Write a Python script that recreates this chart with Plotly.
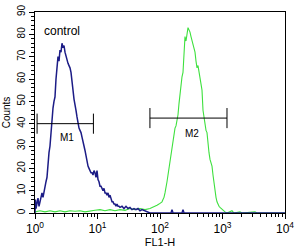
import plotly.graph_objects as go

# ---- data (log10 of FL1-H, counts) ----
blue_log_fl1 = [0.000, 0.008, 0.016, 0.032, 0.048, 0.064, 0.080, 0.096, 0.112, 0.128,
                0.144, 0.160, 0.176, 0.192, 0.208, 0.224, 0.240, 0.256, 0.272, 0.288,
                0.304, 0.320, 0.336, 0.352, 0.368, 0.384, 0.400, 0.416, 0.432, 0.448,
                0.464, 0.480, 0.496, 0.512, 0.528, 0.544, 0.560, 0.576, 0.592, 0.608,
                0.624, 0.640, 0.656, 0.672, 0.688, 0.704, 0.720, 0.736, 0.752, 0.768,
                0.784, 0.800, 0.816, 0.832, 0.848, 0.864, 0.880, 0.896, 0.912, 0.928,
                0.944, 0.960, 0.976, 0.992, 1.008, 1.024, 1.040, 1.056, 1.072, 1.088,
                1.104, 1.120, 1.136, 1.152, 1.168, 1.184, 1.200, 1.216, 1.232, 1.248,
                1.264, 1.280, 1.296, 1.312, 1.328, 1.344, 1.360, 1.392, 1.424, 1.456,
                1.488, 1.520, 1.552, 1.584, 1.616, 1.648, 1.680, 1.712, 1.760, 1.808,
                1.840, 2.176, 2.192, 2.208, 2.352, 2.368, 2.384, 4.000]
blue_counts = [0, 6, 2, 4.5, 6.7, 3, 5, 8, 9, 7,
               10, 12, 14, 16, 24, 27, 30, 37, 42, 47,
               50, 52, 60, 64, 70, 68, 73, 72, 76, 74,
               75, 72, 70, 68, 67, 66, 65, 63, 60, 55,
               51, 49, 46, 43, 40, 38, 37, 36, 34, 31,
               30, 28, 25, 22, 21, 20, 19, 18, 18, 17,
               19, 18, 16, 19, 15, 14, 12, 12, 11, 10,
               11, 9, 9, 8, 9, 7, 8, 6, 5, 5,
               4, 4, 3, 4, 3, 3, 2.5, 3, 2, 3,
               2, 2.5, 1.5, 2, 1.5, 2, 1, 1.5, 1, 0.5,
               0, 0, 1.5, 0, 0, 1.5, 0, 0]

green_log_fl1 = [0.00, 0.08, 0.16, 0.24, 0.32, 0.40, 0.48, 0.56, 0.64, 0.72,
                 0.80, 0.88, 0.96, 1.04, 1.12, 1.20, 1.28, 1.36, 1.44, 1.52,
                 1.60, 1.68, 1.76, 1.84, 1.888, 1.92, 1.952, 1.984, 2.016, 2.032,
                 2.048, 2.064, 2.080, 2.096, 2.112, 2.128, 2.144, 2.160, 2.176, 2.192,
                 2.208, 2.224, 2.240, 2.256, 2.272, 2.288, 2.304, 2.320, 2.336, 2.352,
                 2.368, 2.384, 2.400, 2.416, 2.432, 2.448, 2.464, 2.480, 2.496, 2.512,
                 2.528, 2.544, 2.560, 2.576, 2.592, 2.608, 2.624, 2.640, 2.656, 2.672,
                 2.688, 2.704, 2.720, 2.736, 2.752, 2.768, 2.784, 2.800, 2.816, 2.832,
                 2.848, 2.864, 2.880, 2.896, 2.912, 2.928, 2.944, 2.960, 2.992, 3.040,
                 3.072, 3.152, 3.184, 3.280, 3.312, 3.520, 3.552, 4.000]
green_counts = [0.5, 1, 0.5, 1, 0.5, 1, 0.5, 1, 0.8, 1,
                0.5, 1, 1.2, 1.5, 1, 1.5, 1, 1.5, 1.2, 2,
                1.5, 2, 1.5, 2, 2.5, 3, 3.5, 4, 4.5, 5,
                6, 7, 9, 11, 14, 17, 20, 24, 27, 30,
                33, 36, 38, 39, 41, 44, 49, 54, 58, 61,
                63, 70, 79, 77, 80, 83, 82, 81, 79, 77,
                76, 74, 72, 68, 65, 66, 63, 60, 57, 55,
                46, 43, 39, 37, 36, 30, 27, 24, 22, 21,
                17, 13, 9, 7, 5, 3.5, 3, 2.5, 1.5, 0.5,
                0, 1, 0, 0.5, 0, 0.5, 0, 0]

gate_names = ["M1", "M2"]
gate_low = [1.08, 69]
gate_high = [8.6, 1180]
gate_level = [40, 42.5]
gate_label_log_x = [0.512, 2.512]
gate_label_y = [34, 35.8]

x_tick_vals = [1, 10, 100, 1000, 10000]
x_tick_text = ["10<sup>0</sup>", "10<sup>1</sup>", "10<sup>2</sup>", "10<sup>3</sup>", "10<sup>4</sup>"]
x_minor_vals = [m * 10 ** d for d in range(4) for m in range(2, 10)]

BLUE = "#1c1c86"
GREEN = "#3ee03e"
FONT = "Liberation Sans"

fig = go.Figure()
fig.add_trace(go.Scatter(x=[10 ** v for v in green_log_fl1], y=green_counts, mode="lines",
                         line=dict(color=GREEN, width=1.1), showlegend=False))
fig.add_trace(go.Scatter(x=[10 ** v for v in blue_log_fl1], y=blue_counts, mode="lines",
                         line=dict(color=BLUE, width=1.5), showlegend=False))

tick_half = 4.5
for name, lo, hi, lvl, lx, ly in zip(gate_names, gate_low, gate_high, gate_level,
                                     gate_label_log_x, gate_label_y):
    fig.add_trace(go.Scatter(
        x=[lo, lo, None, lo, hi, None, hi, hi],
        y=[lvl - tick_half, lvl + tick_half, None, lvl, lvl, None, lvl - tick_half, lvl + tick_half],
        mode="lines", line=dict(color="black", width=1), showlegend=False))
    fig.add_annotation(x=lx, y=ly, text=name, showarrow=False,
                       font=dict(family=FONT, size=10, color="black"))

fig.add_annotation(x=0.43, y=81.5, text="control", showarrow=False,
                   font=dict(family=FONT, size=12, color="black"))

fig.update_layout(
    width=300, height=248,
    margin=dict(l=35, r=15, t=12, b=35),
    plot_bgcolor="white", paper_bgcolor="white",
    font=dict(family=FONT, color="black"),
    xaxis=dict(type="log", range=[0, 4], tickmode="array", tickvals=x_tick_vals,
               ticktext=x_tick_text, ticks="outside", ticklen=5, tickcolor="black",
               tickfont=dict(size=12), showgrid=False, zeroline=False,
               showline=True, linecolor="black", linewidth=1, mirror=True,
               minor=dict(tickmode="array", tickvals=x_minor_vals, ticks="outside",
                          ticklen=3, tickcolor="black", showgrid=False),
               title=dict(text="FL1-H", font=dict(size=11), standoff=1),
               automargin=False),
    yaxis=dict(range=[0, 90], dtick=10, tickangle=-90, ticks="outside", ticklen=5,
               tickcolor="black", tickfont=dict(size=10), showgrid=False, zeroline=False,
               showline=True, linecolor="black", linewidth=1, mirror=True,
               minor=dict(dtick=2, ticks="outside", ticklen=3, tickcolor="black",
                          showgrid=False),
               title=dict(text="Counts", font=dict(size=10), standoff=3),
               automargin=False),
)

fig.write_html("out.html")
